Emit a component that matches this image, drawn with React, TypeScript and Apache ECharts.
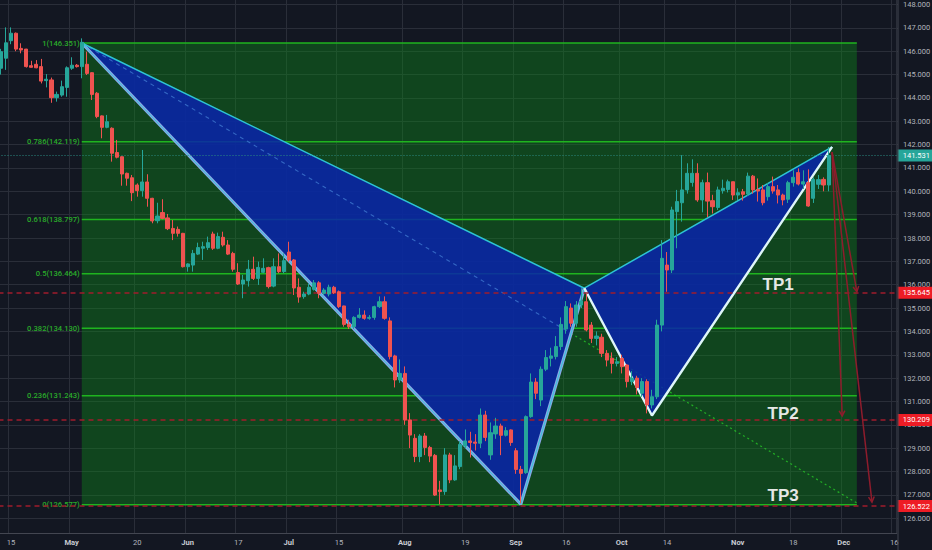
import React, { useEffect, useRef } from "react";
import * as echarts from "echarts";

const FONT = 'Roboto, "Liberation Sans", sans-serif';

// ---- time axis ----
const FIRST_DAY = "2024-04-11";
const DAY_COUNT = 178;
const xTickDays = [
  "2024-04-15", "2024-05-01", "2024-05-20", "2024-06-03", "2024-06-17", "2024-07-01",
  "2024-07-15", "2024-08-01", "2024-08-19", "2024-09-02", "2024-09-16", "2024-10-01",
  "2024-10-14", "2024-11-01", "2024-11-18", "2024-12-02", "2024-12-16",
];
const xTickTexts = ["15", "May", "20", "Jun", "17", "Jul", "15", "Aug", "19", "Sep", "16", "Oct", "14", "Nov", "18", "Dec", "16"];
const monthNames = ["May", "Jun", "Jul", "Aug", "Sep", "Oct", "Nov", "Dec"];

// ---- price axis ----
const priceTickMin = 126;
const priceTickMax = 148;
const viewTop = 148.193;
const viewBottom = 125.366;

// ---- daily candles (open, high, low, close) from 2024-04-11 ----
const candles: number[][] = [
  [145.27, 146.1, 145.0, 145.98], [145.7, 147.02, 145.2, 146.36], [146.45, 147.02, 146.3, 146.77],
  [146.77, 146.8, 146.0, 146.09], [146.12, 146.34, 145.91, 146.05], [146.09, 146.1, 145.3, 145.34],
  [145.38, 145.59, 145.3, 145.31], [145.44, 145.62, 145.27, 145.29], [145.34, 145.67, 144.62, 144.72],
  [144.74, 145.02, 144.45, 144.8], [144.77, 144.87, 143.79, 144.01], [144.01, 144.27, 143.84, 144.15],
  [144.12, 144.74, 144.05, 144.48], [144.45, 145.35, 144.05, 145.29], [145.27, 145.74, 145.2, 145.4],
  [145.4, 145.45, 145.3, 145.34], [145.34, 146.55, 144.84, 146.38],
  [145.44, 145.98, 144.98, 145.05], [145.08, 145.1, 143.91, 144.15], [144.2, 144.25, 143.13, 143.2],
  [143.23, 143.25, 142.27, 142.74], [142.74, 143.27, 142.7, 142.98], [142.7, 142.74, 141.27, 141.63],
  [141.66, 142.2, 141.41, 141.46], [141.48, 141.5, 140.24, 140.74], [140.77, 140.8, 140.24, 140.56],
  [140.58, 140.7, 139.58, 139.94], [140.27, 140.34, 139.77, 140.03], [140.03, 141.77, 139.77, 140.4],
  [140.4, 140.73, 139.34, 139.7], [139.7, 139.72, 138.63, 138.73], [138.74, 139.51, 138.63, 138.94],
  [139.09, 139.66, 138.8, 138.84], [138.86, 139.03, 138.34, 138.4], [138.41, 138.77, 137.91, 138.2],
  [138.37, 138.49, 138.06, 138.2], [138.2, 138.22, 136.74, 136.77], [136.77, 136.92, 136.56, 136.89],
  [136.84, 137.49, 136.56, 137.34], [137.31, 137.8, 137.27, 137.59], [137.56, 137.84, 137.06, 137.63],
  [137.59, 138.06, 137.49, 137.8], [138.17, 138.27, 137.49, 137.56], [137.56, 138.23, 137.52, 138.06],
  [138.03, 138.27, 137.63, 137.7], [137.7, 137.91, 137.27, 137.31], [137.34, 137.41, 136.56, 136.66],
  [136.52, 136.92, 135.99, 136.03], [136.03, 136.42, 135.42, 136.2], [136.17, 137.06, 135.92, 136.66],
  [136.66, 137.2, 136.2, 136.27], [136.27, 136.99, 135.99, 136.74], [136.53, 137.13, 136.49, 136.7],
  [136.73, 136.77, 135.84, 135.92], [135.94, 137.13, 135.89, 136.77], [136.77, 137.34, 136.49, 136.56],
  [136.56, 137.34, 136.49, 137.03], [137.4, 137.84, 136.99, 137.06], [137.06, 137.1, 135.56, 135.86],
  [135.89, 136.27, 135.23, 135.47], [135.49, 135.7, 135.4, 135.6], [135.6, 136.06, 135.55, 135.89],
  [135.8, 136.2, 135.75, 136.08], [136.08, 136.15, 135.42, 135.63], [135.63, 135.85, 135.55, 135.77],
  [135.6, 136.0, 135.5, 135.89], [135.89, 135.95, 135.6, 135.66], [135.7, 135.75, 135.0, 135.06],
  [135.09, 135.1, 134.2, 134.3], [134.3, 134.5, 134.1, 134.2], [134.2, 134.65, 134.1, 134.6],
  [134.6, 135.0, 134.55, 134.7], [134.7, 134.9, 134.5, 134.56], [134.56, 134.7, 134.5, 134.6],
  [134.6, 135.1, 134.5, 135.06], [135.06, 135.5, 135.0, 135.27], [135.27, 135.5, 134.5, 134.56],
  [134.45, 134.6, 132.8, 132.92], [132.95, 133.0, 131.6, 131.92], [131.92, 132.8, 131.8, 132.2],
  [132.2, 132.5, 130.0, 130.21], [130.21, 130.5, 129.0, 129.56], [129.42, 129.6, 128.4, 128.64],
  [128.64, 129.6, 128.4, 129.52], [129.52, 129.65, 128.7, 129.03], [129.03, 129.1, 128.4, 128.66],
  [128.69, 128.75, 126.95, 126.99], [127.21, 127.6, 126.6, 127.14], [127.14, 129.0, 127.0, 128.71],
  [128.71, 128.8, 127.5, 127.64], [127.64, 128.7, 127.6, 128.24], [128.21, 129.3, 128.1, 129.16],
  [129.09, 129.8, 129.0, 129.31], [129.31, 129.7, 128.6, 129.24], [129.26, 129.6, 128.9, 129.21],
  [129.21, 130.7, 129.0, 130.42], [130.42, 130.6, 129.3, 129.46], [128.71, 130.1, 128.5, 129.66],
  [129.61, 130.3, 129.4, 129.95], [129.95, 130.05, 128.7, 129.55], [129.55, 129.9, 129.5, 129.75],
  [129.78, 129.8, 129.1, 129.24], [128.89, 129.0, 127.9, 128.09], [128.09, 128.24, 126.64, 127.92],
  [127.95, 130.4, 127.9, 130.35], [130.35, 132.2, 130.3, 131.83], [131.83, 132.0, 131.1, 131.35],
  [131.06, 132.5, 130.8, 132.38], [132.38, 133.2, 132.3, 132.88], [132.85, 133.3, 132.5, 132.95],
  [132.92, 133.8, 132.8, 133.35], [133.35, 134.6, 133.2, 134.3], [134.1, 135.3, 133.9, 135.06],
  [135.0, 135.2, 134.2, 134.35], [134.35, 135.3, 134.2, 135.13], [135.13, 135.85, 135.0, 135.3],
  [135.27, 135.6, 134.0, 134.06], [134.27, 134.4, 133.5, 133.7], [133.7, 134.0, 133.4, 133.8],
  [133.75, 133.9, 132.9, 133.06], [133.06, 133.2, 132.5, 132.77], [132.85, 133.1, 132.2, 132.63],
  [132.63, 132.9, 132.5, 132.7], [132.84, 133.0, 132.2, 132.49], [132.56, 132.6, 131.6, 131.85],
  [131.85, 132.3, 131.7, 132.0], [132.0, 132.1, 131.3, 131.6], [131.35, 132.0, 131.2, 131.85],
  [131.85, 131.95, 130.49, 130.85], [130.85, 131.5, 130.7, 131.2], [131.2, 134.5, 131.1, 134.27],
  [134.27, 137.91, 134.0, 137.13], [136.84, 137.4, 135.7, 136.63], [136.63, 139.34, 136.5, 139.2],
  [139.13, 140.06, 137.56, 139.56], [139.51, 141.55, 138.7, 140.06], [140.06, 141.2, 139.9, 140.77],
  [140.38, 141.37, 140.2, 140.77], [140.77, 141.2, 139.55, 139.63], [139.63, 140.5, 139.1, 140.37],
  [140.37, 140.8, 138.9, 139.58], [139.6, 139.85, 139.05, 139.34], [139.31, 140.2, 139.2, 140.06],
  [140.03, 140.5, 139.9, 140.13], [140.08, 140.5, 139.95, 140.41], [140.41, 140.41, 139.63, 139.84],
  [139.84, 140.13, 139.63, 139.94], [139.98, 140.1, 139.6, 139.87], [139.88, 140.8, 139.8, 140.65],
  [140.65, 140.7, 139.9, 140.06], [140.08, 140.55, 139.56, 140.01], [140.06, 140.27, 139.4, 139.51],
  [139.77, 140.35, 139.6, 140.2], [140.2, 140.63, 139.9, 140.01], [140.06, 140.27, 139.48, 139.84],
  [139.84, 139.9, 139.4, 139.63], [139.66, 140.45, 139.5, 140.37], [140.37, 140.9, 140.2, 140.6],
  [140.8, 140.98, 140.25, 140.31], [140.31, 140.9, 140.1, 140.41], [140.37, 140.94, 139.34, 139.37],
  [139.7, 140.6, 139.5, 140.51], [140.3, 140.7, 140.1, 140.5], [140.51, 140.6, 140.0, 140.27],
  [140.27, 141.9, 140.0, 141.531],
];
const lastPrice = 141.531;

// ---- Fibonacci retracement ----
const fibRatios = [1, 0.786, 0.618, 0.5, 0.382, 0.236, 0];
const fibPrices = [146.351, 142.119, 138.797, 136.464, 134.13, 131.243, 126.577];
const fibStartIdx = 16;
const fibEndIdx = 169.6;

// ---- harmonic pattern points X, A, B, C, D (bar index, price) ----
const patternIdx = [16, 103, 115.6, 129, 164.7];
const patternPrice = [146.351, 126.6, 135.85, 130.4, 141.9];
const projectionEnd = [169.6, 126.65];

// ---- targets ----
const targetNames = ["TP1", "TP2", "TP3"];
const targetPrices = [135.645, 130.209, 126.522];
const targetLabelIdx = [154.0, 155.0, 155.0];
const targetLabelPrice = [135.99, 130.5, 126.99];
const arrowStart = [164.7, 141.68];
const arrowEndIdx = [169.6, 166.7, 172.6];
const arrowEndPrice = [135.7, 130.38, 126.69];

function businessDays(start: string, n: number): string[] {
  const out: string[] = [];
  const d = new Date(start + "T00:00:00Z");
  while (out.length < n) {
    const wd = d.getUTCDay();
    if (wd !== 0 && wd !== 6) out.push(d.toISOString().slice(0, 10));
    d.setUTCDate(d.getUTCDate() + 1);
  }
  return out;
}

// intersection of segment p1-p2 with line p3-p4 (data space)
function intersect(p1: number[], p2: number[], p3: number[], p4: number[]): number[] {
  const d = (p1[0] - p2[0]) * (p3[1] - p4[1]) - (p1[1] - p2[1]) * (p3[0] - p4[0]);
  const t = ((p1[0] - p3[0]) * (p3[1] - p4[1]) - (p1[1] - p3[1]) * (p3[0] - p4[0])) / d;
  return [p1[0] + t * (p2[0] - p1[0]), p1[1] + t * (p2[1] - p1[1])];
}

export default function App() {
  const ref = useRef<HTMLDivElement>(null);
  useEffect(() => {
    if (!ref.current) return;
    const chart = echarts.init(ref.current, undefined, { renderer: "svg" });
    const days = businessDays(FIRST_DAY, DAY_COUNT);
    const tickSet = new Set(xTickDays);
    const isTick = (_i: number, v: string) => tickSet.has(v);
    const P = (i: number) => [patternIdx[i], patternPrice[i]];
    const exitPoint = intersect(P(0), projectionEnd, P(1), P(2));

    const candleData = candles.map(([o, h, l, c]) => [o, c, l, h]);

    const option: any = {
      animation: false,
      backgroundColor: "#131722",
      textStyle: { fontFamily: FONT },
      grid: [
        { left: -1.5, top: 0, width: 898.2, height: 533, outerBoundsMode: "none" },
        { left: 0, right: 34, top: 4.5, height: 513.7, outerBoundsMode: "none" },
      ],
      xAxis: [
        {
          type: "category",
          gridIndex: 0,
          data: days,
          boundaryGap: true,
          axisLine: { lineStyle: { color: "#434651", width: 1 } },
          axisTick: { show: false },
          axisLabel: {
            interval: isTick,
            margin: 5,
            color: "#b2b5be",
            fontSize: 7.6,
            formatter: (v: string) => {
              const t = xTickTexts[xTickDays.indexOf(v)] || "";
              return monthNames.includes(t) ? `{m|${t}}` : `{d|${t}}`;
            },
            rich: {
              m: { fontWeight: "bold", color: "#c8cbd2", fontSize: 7.6, fontFamily: FONT },
              d: { color: "#b2b5be", fontSize: 7.6, fontFamily: FONT },
            },
          },
          splitLine: { show: true, interval: isTick, lineStyle: { color: "#2a2e39", width: 1 } },
        },
        { type: "value", gridIndex: 0, min: -0.5, max: DAY_COUNT - 0.5, show: false },
        { type: "value", gridIndex: 1, min: 0, max: 1, show: false },
      ],
      yAxis: [
        { type: "value", gridIndex: 0, min: viewBottom, max: viewTop, show: false, position: "right" },
        {
          type: "value",
          gridIndex: 1,
          min: priceTickMin,
          max: priceTickMax,
          interval: 1,
          position: "right",
          axisLine: { show: false },
          axisTick: { show: false },
          axisLabel: { color: "#b2b5be", fontSize: 7.5, margin: 5, formatter: (v: number) => v.toFixed(3) },
          splitLine: { show: true, lineStyle: { color: "#2a2e39", width: 1 } },
        },
      ],
      graphic: [
        { type: "line", shape: { x1: 898, y1: 0, x2: 898, y2: 550 }, style: { stroke: "#434651", lineWidth: 1 }, z: 100 },
      ],
      series: [
        {
          type: "custom",
          name: "fibBg",
          xAxisIndex: 1,
          yAxisIndex: 0,
          z: 1,
          silent: true,
          data: [[fibStartIdx, fibEndIdx, fibPrices[0], fibPrices[fibPrices.length - 1]]],
          renderItem: (_p: any, api: any) => {
            const a = api.coord([api.value(0), api.value(2)]);
            const b = api.coord([api.value(1), api.value(3)]);
            return {
              type: "rect",
              shape: { x: a[0], y: a[1], width: b[0] - a[0], height: b[1] - a[1] },
              style: { fill: "rgba(12,140,26,0.4)" },
            };
          },
        },
        {
          type: "custom",
          name: "fibLevels",
          xAxisIndex: 1,
          yAxisIndex: 0,
          z: 2,
          silent: true,
          data: fibRatios.map((r, i) => [fibStartIdx, fibEndIdx, fibPrices[i], r]),
          renderItem: (_p: any, api: any) => {
            const a = api.coord([api.value(0), api.value(2)]);
            const b = api.coord([api.value(1), api.value(2)]);
            return {
              type: "group",
              children: [
                { type: "line", shape: { x1: a[0], y1: a[1], x2: b[0], y2: b[1] }, style: { stroke: "#1fb41f", lineWidth: 1.5 } },
                {
                  type: "text",
                  x: a[0] - 2,
                  y: a[1],
                  style: {
                    text: `${api.value(3)}(${Number(api.value(2)).toFixed(3)})`,
                    align: "right",
                    verticalAlign: "middle",
                    fill: "#2aad2a",
                    font: `500 7.6px ${FONT}`,
                  },
                },
              ],
            };
          },
        },
        {
          type: "line",
          name: "projection",
          xAxisIndex: 1,
          yAxisIndex: 0,
          z: 2,
          silent: true,
          showSymbol: false,
          data: [exitPoint, projectionEnd],
          lineStyle: { color: "rgba(40,210,40,0.75)", width: 1.2, type: [2, 3] },
        },
        {
          type: "custom",
          name: "triangles",
          xAxisIndex: 1,
          yAxisIndex: 0,
          z: 3,
          silent: true,
          data: [
            [...P(0), ...P(1), ...P(2)],
            [...P(2), ...P(3), ...P(4)],
          ],
          renderItem: (_p: any, api: any) => {
            const pts = [0, 2, 4].map((j) => api.coord([api.value(j), api.value(j + 1)]));
            return { type: "polygon", shape: { points: pts }, style: { fill: "rgba(9,35,171,0.85)" } };
          },
        },
        {
          type: "line",
          name: "projection inside",
          xAxisIndex: 1,
          yAxisIndex: 0,
          z: 3,
          silent: true,
          showSymbol: false,
          data: [P(0), exitPoint],
          lineStyle: { color: "rgba(70,130,215,0.7)", width: 1.1, type: [4, 4] },
        },
        {
          type: "line",
          name: "XAB outer",
          xAxisIndex: 1,
          yAxisIndex: 0,
          z: 4,
          silent: true,
          showSymbol: false,
          data: [P(0), P(1), P(2)],
          lineStyle: { color: "#8aa6e6", width: 3.2 },
        },
        {
          type: "line",
          name: "XAB inner",
          xAxisIndex: 1,
          yAxisIndex: 0,
          z: 4,
          silent: true,
          showSymbol: false,
          data: [P(0), P(1), P(2)],
          lineStyle: { color: "#33c9d9", width: 1 },
        },
        {
          type: "line",
          name: "XBD",
          xAxisIndex: 1,
          yAxisIndex: 0,
          z: 4,
          silent: true,
          showSymbol: false,
          data: [P(0), P(2), P(4)],
          lineStyle: { color: "#2ec4d4", width: 1.5 },
        },
        {
          type: "line",
          name: "BCD",
          xAxisIndex: 1,
          yAxisIndex: 0,
          z: 4,
          silent: true,
          showSymbol: false,
          data: [P(2), P(3), P(4)],
          lineStyle: { color: "#dff6fa", width: 2.4 },
        },
        {
          type: "candlestick",
          name: "price",
          xAxisIndex: 0,
          yAxisIndex: 0,
          z: 5,
          barWidth: 3.6,
          data: candleData,
          itemStyle: {
            color: "#26a69a",
            color0: "#ef5350",
            borderColor: "#26a69a",
            borderColor0: "#ef5350",
            borderWidth: 1,
          },
          markLine: {
            silent: true,
            symbol: ["none", "none"],
            animation: false,
            data: [
              ...targetPrices.map((p) => ({
                yAxis: p,
                lineStyle: { color: "#a01c2c", width: 1.6, type: [5, 4] },
                label: {
                  show: true,
                  position: "end",
                  distance: 1,
                  formatter: p.toFixed(3),
                  backgroundColor: "#ee1c25",
                  color: "#ffffff",
                  fontSize: 7.5,
                  padding: [2, 6, 2, 5],
                },
              })),
              {
                yAxis: lastPrice,
                lineStyle: { color: "#2a8a80", width: 1, type: [1, 2] },
                label: {
                  show: true,
                  position: "end",
                  distance: 1,
                  formatter: lastPrice.toFixed(3),
                  backgroundColor: "#26a69a",
                  color: "#ffffff",
                  fontSize: 7.5,
                  padding: [2, 6, 2, 5],
                },
              },
            ],
          },
        },
        {
          type: "custom",
          name: "arrows",
          xAxisIndex: 1,
          yAxisIndex: 0,
          z: 6,
          silent: true,
          data: arrowEndIdx.map((k, i) => [arrowStart[0], arrowStart[1], k, arrowEndPrice[i]]),
          renderItem: (_p: any, api: any) => {
            const s = api.coord([api.value(0), api.value(1)]);
            const e = api.coord([api.value(2), api.value(3)]);
            const ang = Math.atan2(e[1] - s[1], e[0] - s[0]);
            const len = 6;
            const spread = 0.5;
            const h1 = [e[0] - len * Math.cos(ang - spread), e[1] - len * Math.sin(ang - spread)];
            const h2 = [e[0] - len * Math.cos(ang + spread), e[1] - len * Math.sin(ang + spread)];
            const st = { stroke: "#8e1c2c", lineWidth: 1.5, fill: "none" };
            return {
              type: "group",
              children: [
                { type: "line", shape: { x1: s[0], y1: s[1], x2: e[0], y2: e[1] }, style: st },
                { type: "polyline", shape: { points: [h1, e, h2] }, style: st },
              ],
            };
          },
        },
        {
          type: "custom",
          name: "targets",
          xAxisIndex: 1,
          yAxisIndex: 0,
          z: 6,
          silent: true,
          data: targetLabelIdx.map((k, i) => [k, targetLabelPrice[i], i]),
          renderItem: (_p: any, api: any) => {
            const c = api.coord([api.value(0), api.value(1)]);
            return {
              type: "text",
              x: c[0],
              y: c[1],
              style: {
                text: targetNames[api.value(2)],
                align: "center",
                verticalAlign: "middle",
                fill: "#e6e8e6",
                font: `bold 17px "Liberation Sans", Arial, sans-serif`,
              },
            };
          },
        },
      ],
    };
    chart.setOption(option);
    return () => chart.dispose();
  }, []);
  return <div ref={ref} style={{ position: "fixed", left: 0, top: 0, width: 932, height: 550 }} />;
}
